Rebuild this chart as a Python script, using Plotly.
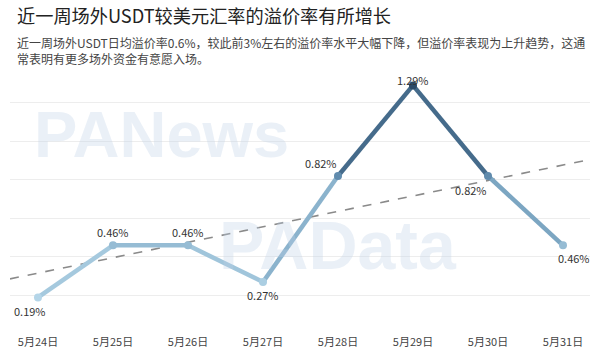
import numpy as np
import plotly.graph_objects as go
from plotly.colors import sample_colorscale

# ---- data ----
dates = ["5月24日", "5月25日", "5月26日", "5月27日", "5月28日", "5月29日", "5月30日", "5月31日"]
premium = [0.19, 0.46, 0.46, 0.27, 0.82, 1.29, 0.82, 0.46]
labels = ["0.19%", "0.46%", "0.46%", "0.27%", "0.82%", "1.29%", "0.82%", "0.46%"]

title = "近一周场外USDT较美元汇率的溢价率有所增长"
subtitle = ("近一周场外USDT日均溢价率0.6%，较此前3%左右的溢价率水平大幅下降，但溢价率表现为上升趋势，这通<br>"
            "常表明有更多场外资金有意愿入场。")

# ---- styles ----
label_xshift = [-8, 0, 0, 0, -17, 0, -17, 11]
label_yshift = [-14, 13, 13, -13, 13, 5, -14, -13]
cscale = [[0.0, "#b4d5e8"], [0.3, "#8fb7d0"], [0.6, "#5b87a9"], [1.0, "#2b4a69"]]
vmin, vmax = 0.19, 1.29

x = np.arange(len(dates))
fig = go.Figure()

def col(v):
    t = (v - vmin) / (vmax - vmin)
    return sample_colorscale(cscale, [min(max(t, 0), 1)])[0]

# trend line (least squares fit of the data)
x_lo, x_hi = -0.373, 7.36
k, b0 = np.polyfit(x, premium, 1)

# watermarks
wm_color = "rgba(190,208,230,0.32)"
fig.add_annotation(xref="paper", yref="paper", x=0.262, y=0.771, xanchor="center", yanchor="middle",
                   text="<b>PANews</b>", showarrow=False,
                   font=dict(size=65, color=wm_color, family="Liberation Sans"))
fig.add_annotation(xref="paper", yref="paper", x=0.566, y=0.345, xanchor="center", yanchor="middle",
                   text="<b>PAData</b>", showarrow=False,
                   font=dict(size=68, color=wm_color, family="Liberation Sans"))

fig.add_trace(go.Scatter(x=[x_lo, x_hi], y=[k * x_lo + b0, k * x_hi + b0], mode="lines",
                         line=dict(color="#8a8a8a", width=1.6, dash="dash"),
                         hoverinfo="skip", showlegend=False))

# segments coloured by value
for i in range(len(x) - 1):
    v = (premium[i] + premium[i + 1]) / 2
    fig.add_trace(go.Scatter(x=[x[i], x[i + 1]], y=[premium[i], premium[i + 1]], mode="lines",
                             line=dict(color=col(v), width=4.5), showlegend=False))

fig.add_trace(go.Scatter(x=x, y=premium, mode="markers",
                         marker=dict(size=8, color=[col(v) for v in premium]),
                         showlegend=False))

for i in range(len(x)):
    fig.add_annotation(x=x[i], y=premium[i], text=labels[i], showarrow=False,
                       xshift=label_xshift[i], yshift=label_yshift[i],
                       font=dict(size=11, color="#333333"))

# title/subtitle
fig.add_annotation(xref="paper", yref="paper", x=0.0, y=1.0, xanchor="left", yanchor="bottom",
                   xshift=5, yshift=45, text=title, showarrow=False,
                   font=dict(size=18.2, color="#222222", family="Noto Sans CJK SC"))
fig.add_annotation(xref="paper", yref="paper", x=0.0, y=1.0, xanchor="left", yanchor="bottom",
                   xshift=5, yshift=6, text=subtitle, showarrow=False, align="left",
                   font=dict(size=12, color="#444444", family="Noto Sans CJK SC"))

fig.update_layout(
    width=600, height=359,
    margin=dict(l=10, r=10, t=75, b=22),
    paper_bgcolor="white", plot_bgcolor="white",
    font=dict(family="Noto Sans CJK SC"),
    xaxis=dict(range=[x_lo, x_hi], tickvals=list(x), ticktext=dates, showgrid=False,
               zeroline=False, showline=False, ticks="", tickfont=dict(size=11, color="#444444")),
    yaxis=dict(range=[0, 1.344], dtick=0.2, showgrid=True, gridcolor="#ededed", gridwidth=1,
               zeroline=False, showticklabels=False, showline=False),
)

fig.write_html("out.html", config={"displayModeBar": False},
               post_script="document.body.style.margin='0';document.body.style.overflow='hidden';")
